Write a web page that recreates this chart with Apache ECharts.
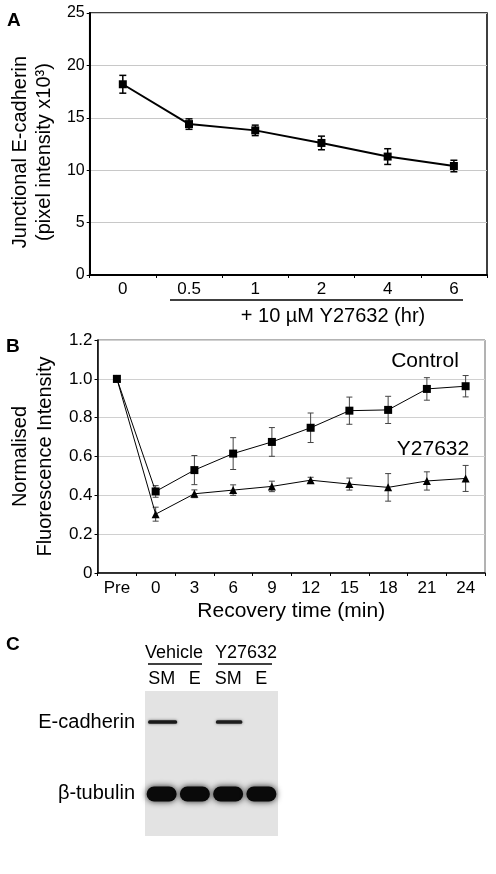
<!DOCTYPE html>
<html><head><meta charset="utf-8">
<script src="https://cdn.jsdelivr.net/npm/echarts@6/dist/echarts.min.js"></script>
<style>html,body{margin:0;padding:0;background:#fff}#c{width:496px;height:874px}</style>
</head><body><div id="c"></div>
<script>
// ---- Panel A data ----
const catsA = ['0', '0.5', '1', '2', '4', '6'];
const meanA = [18.2, 14.4, 13.8, 12.6, 11.3, 10.4];
const errA = [0.85, 0.5, 0.5, 0.65, 0.75, 0.55];
const yTicksA = [0, 5, 10, 15, 20, 25];

// ---- Panel B data ----
const catsB = ['Pre', '0', '3', '6', '9', '12', '15', '18', '21', '24'];
const control = [1.0, 0.42, 0.53, 0.615, 0.675, 0.748, 0.836, 0.84, 0.948, 0.962];
const controlErr = [0, 0.03, 0.075, 0.082, 0.074, 0.076, 0.07, 0.07, 0.058, 0.055];
const y27 = [1.0, 0.303, 0.408, 0.427, 0.446, 0.478, 0.458, 0.441, 0.474, 0.487];
const y27Err = [0, 0.036, 0.02, 0.027, 0.027, 0.015, 0.031, 0.071, 0.047, 0.067];

// ---- Panel C (blot) data ----
const lanes = ['SM', 'E', 'SM', 'E'];
const groups = ['Vehicle', 'Y27632'];
const rows = ['E-cadherin', 'β-tubulin'];
const eCadBand = [1, 0, 0.85, 0];
const tubulinBand = [1, 1, 1, 1];

// ---- layout constants ----
const FONT = "'Liberation Sans', Arial, Helvetica, sans-serif";
const ROW_Y = [0.214, 0.71];

function errRender(color, width, half) {
  return function (params, api) {
    const x = api.value(0), lo = api.value(1), hi = api.value(2);
    const p1 = api.coord([x, hi]), p2 = api.coord([x, lo]);
    const st = { stroke: color, lineWidth: width };
    return { type: 'group', children: [
      { type: 'line', shape: { x1: p1[0], y1: p1[1], x2: p2[0], y2: p2[1] }, style: st },
      { type: 'line', shape: { x1: p1[0] - half, y1: p1[1], x2: p1[0] + half, y2: p1[1] }, style: st },
      { type: 'line', shape: { x1: p2[0] - half, y1: p2[1], x2: p2[0] + half, y2: p2[1] }, style: st }
    ]};
  };
}
function errData(mean, err) {
  const out = [];
  mean.forEach((m, i) => { if (err[i] > 0) out.push([i, m - err[i], m + err[i]]); });
  return out;
}
const blotData = [];
eCadBand.forEach((v, i) => { if (v > 0) blotData.push([i, 0, v]); });
tubulinBand.forEach((v, i) => { if (v > 0) blotData.push([i, 1, v]); });

function blotRender(params, api) {
  const lane = api.value(0), row = api.value(1), v = api.value(2);
  const c = api.coord([lane, ROW_Y[row]]);
  if (row === 0) {
    const w = 29 * (0.4 + 0.6 * v), h = 3.5;
    return { type: 'rect', shape: { x: c[0] - w / 2 + 1, y: c[1] - h / 2, width: w, height: h, r: 1.5 },
      style: { fill: 'rgba(25,25,25,' + (0.75 + 0.25 * v) + ')', shadowBlur: 3, shadowColor: 'rgba(0,0,0,0.55)' } };
  }
  const w = 30, h = 15;
  return { type: 'rect', shape: { x: c[0] - w / 2, y: c[1] - h / 2, width: w, height: h, r: 7.5 },
    style: { fill: '#0a0a0a', shadowBlur: 6, shadowColor: 'rgba(0,0,0,0.85)' } };
}

const axisBlack = { lineStyle: { color: '#000', width: 2 } };
const centered = { align: 'center', textAlign: 'center', verticalAlign: 'middle', textVerticalAlign: 'middle', fill: '#000' };
const option = {
  animation: false,
  backgroundColor: '#fff',
  textStyle: { fontFamily: FONT, color: '#000' },
  grid: [
    { left: 85, right: 9, top: 13, bottom: 599, show: true, borderColor: '#000', borderWidth: 1.5 },
    { left: 87, right: 11, top: 340, bottom: 301, show: true, borderColor: '#666', borderWidth: 1 },
    { left: 145, right: 218, top: 691, bottom: 38, show: true, borderWidth: 0, backgroundColor: '#e3e3e3' }
  ],
  xAxis: [
    { gridIndex: 0, type: 'category', data: catsA, axisLine: axisBlack,
      axisTick: { show: true, length: 3, lineStyle: { color: '#000' } },
      axisLabel: { fontSize: 17, color: '#000', margin: 6, fontFamily: FONT, interval: 0 } },
    { gridIndex: 1, type: 'category', data: catsB, axisLine: { lineStyle: { color: '#000', width: 1.5 } },
      axisTick: { show: true, length: 3, lineStyle: { color: '#000' } },
      axisLabel: { fontSize: 17, color: '#000', margin: 7, fontFamily: FONT, interval: 0 },
      name: 'Recovery time (min)', nameLocation: 'middle', nameGap: 28,
      nameTextStyle: { fontSize: 21, color: '#000', fontFamily: FONT } },
    { gridIndex: 2, type: 'category', data: lanes, position: 'top',
      axisLine: { show: false }, axisTick: { show: false },
      axisLabel: { fontSize: 18, color: '#000', margin: 3, fontFamily: FONT, interval: 0, hideOverlap: false } }
  ],
  yAxis: [
    { gridIndex: 0, type: 'value', min: 0, max: 25, interval: 5, axisLine: { show: true, lineStyle: { color: '#000', width: 2 } },
      axisTick: { show: true, length: 3, lineStyle: { color: '#000' } },
      splitLine: { lineStyle: { color: '#c8c8c8' } },
      axisLabel: { fontSize: 16, color: '#000', margin: 5, fontFamily: FONT },
      name: 'Junctional E-cadherin\n(pixel intensity x10³)', nameLocation: 'middle', nameGap: 30,
      nameTextStyle: { fontSize: 20, lineHeight: 24, color: '#000', fontFamily: FONT, padding: [0, 16, 0, 0] } },
    { gridIndex: 1, type: 'value', min: 0, max: 1.2, interval: 0.2, axisLine: { show: true, lineStyle: { color: '#000', width: 1.5 } },
      axisTick: { show: true, length: 3, lineStyle: { color: '#000' } },
      splitLine: { lineStyle: { color: '#d0d0d0' } },
      axisLabel: { fontSize: 17, color: '#000', margin: 5, fontFamily: FONT,
        formatter: v => (Math.abs(v) < 1e-9 ? '0' : v.toFixed(1)) },
      name: 'Normalised\nFluorescence Intensity', nameLocation: 'middle', nameGap: 32,
      nameTextStyle: { fontSize: 20, lineHeight: 25, color: '#000', fontFamily: FONT } },
    { gridIndex: 2, type: 'value', min: 0, max: 1, inverse: true,
      axisLine: { show: false }, axisTick: { show: false }, splitLine: { show: false },
      axisLabel: { customValues: ROW_Y, fontSize: 20, color: '#000', margin: 10, fontFamily: FONT,
        formatter: v => (v < 0.5 ? rows[0] : rows[1]) } }
  ],
  series: [
    { type: 'custom', xAxisIndex: 0, yAxisIndex: 0, data: errData(meanA, errA), renderItem: errRender('#000', 1.5, 3.5), z: 2 },
    { type: 'line', xAxisIndex: 0, yAxisIndex: 0, data: meanA, symbol: 'rect', symbolSize: 8,
      lineStyle: { color: '#000', width: 2 }, itemStyle: { color: '#000' }, z: 3 },
    { type: 'custom', xAxisIndex: 1, yAxisIndex: 1, data: errData(y27, y27Err), renderItem: errRender('#444', 1, 3), z: 2 },
    { type: 'custom', xAxisIndex: 1, yAxisIndex: 1, data: errData(control, controlErr), renderItem: errRender('#444', 1, 3), z: 2 },
    { type: 'line', name: 'Y27632', xAxisIndex: 1, yAxisIndex: 1, data: y27, symbol: 'triangle', symbolSize: 8,
      lineStyle: { color: '#000', width: 1 }, itemStyle: { color: '#000' }, z: 3 },
    { type: 'line', name: 'Control', xAxisIndex: 1, yAxisIndex: 1, data: control, symbol: 'rect', symbolSize: 8,
      lineStyle: { color: '#000', width: 1 }, itemStyle: { color: '#000' }, z: 4 },
    { type: 'custom', xAxisIndex: 2, yAxisIndex: 2, data: blotData, renderItem: blotRender, z: 3 }
  ],
  graphic: [
    { type: 'text', z: 100, style: { text: 'A', x: 7, y: 21, font: 'bold 19px ' + FONT, fill: '#000', verticalAlign: 'middle', textVerticalAlign: 'middle' } },
    { type: 'text', z: 100, style: { text: 'B', x: 6, y: 347, font: 'bold 19px ' + FONT, fill: '#000', verticalAlign: 'middle', textVerticalAlign: 'middle' } },
    { type: 'text', z: 100, style: { text: 'C', x: 6, y: 645, font: 'bold 19px ' + FONT, fill: '#000', verticalAlign: 'middle', textVerticalAlign: 'middle' } },
    { type: 'line', z: 100, shape: { x1: 170, y1: 300, x2: 463, y2: 300 }, style: { stroke: '#000', lineWidth: 1.5 } },
    { type: 'text', z: 100, style: Object.assign({ text: '+ 10 µM Y27632 (hr)', x: 333, y: 316, font: '20px ' + FONT }, centered) },
    { type: 'text', z: 100, style: Object.assign({ text: 'Control', x: 425, y: 361, font: '21px ' + FONT }, centered) },
    { type: 'text', z: 100, style: Object.assign({ text: 'Y27632', x: 433, y: 449, font: '21px ' + FONT }, centered) },
    { type: 'text', z: 100, style: Object.assign({ text: groups[0], x: 174, y: 653, font: '18px ' + FONT }, centered) },
    { type: 'text', z: 100, style: Object.assign({ text: groups[1], x: 246, y: 653, font: '18px ' + FONT }, centered) },
    { type: 'line', z: 100, shape: { x1: 148, y1: 664, x2: 202, y2: 664 }, style: { stroke: '#000', lineWidth: 1.5 } },
    { type: 'line', z: 100, shape: { x1: 218, y1: 664, x2: 272, y2: 664 }, style: { stroke: '#000', lineWidth: 1.5 } }
  ]
};
const chart = echarts.init(document.getElementById('c'), null, { renderer: 'canvas' });
chart.setOption(option);
</script></body></html>
